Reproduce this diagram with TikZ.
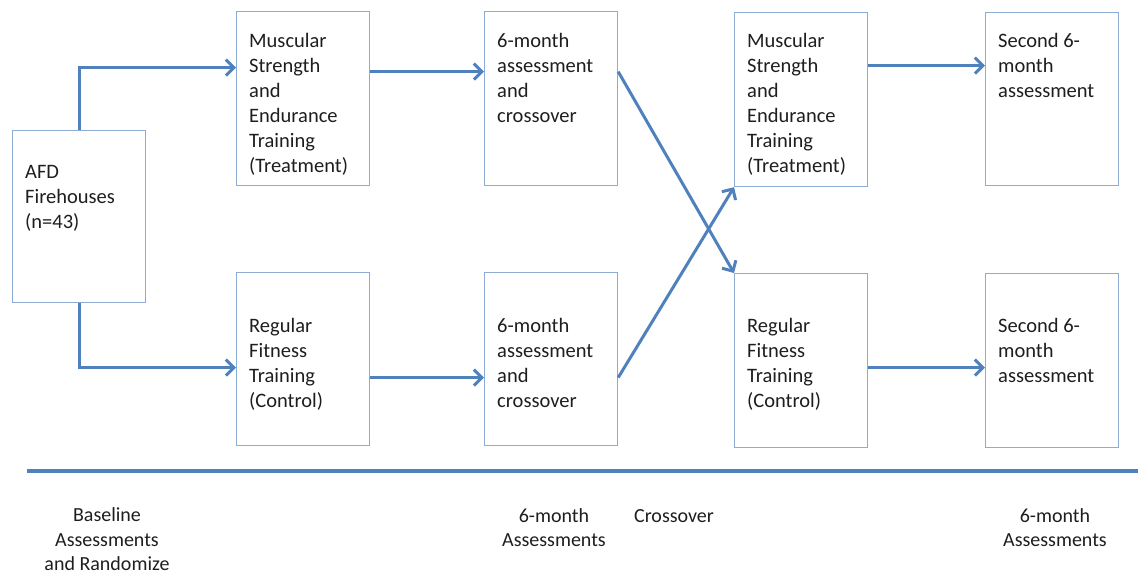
\documentclass[tikz,border=0pt]{standalone}
\usepackage{fontspec}
\setmainfont{Carlito}
\usetikzlibrary{arrows.meta}
\definecolor{arrowblue}{RGB}{79,129,189}
\definecolor{boxblue}{RGB}{140,172,212}
\definecolor{inktext}{RGB}{30,30,30}

\begin{document}
\begin{tikzpicture}[x=1pt,y=-1pt]
  \tikzstyle{stage} = [draw=boxblue, line width=1.2pt, anchor=north west, inner sep=0pt, minimum width=133pt, minimum height=174pt];
  \tikzstyle{stagetext} = [anchor=north west, inner sep=0pt, align=left, text=inktext, font=\fontsize{20.5}{25}\selectfont];
  \tikzstyle{period} = [anchor=north, inner sep=0pt, align=center, text=inktext, font=\fontsize{20}{24.5}\selectfont];
  \tikzstyle{link} = [draw=arrowblue, line width=3pt, -{Straight Barb[length=8pt,width=16pt]}];
  \tikzstyle{timeline} = [draw=arrowblue, line width=3.5pt];

  \useasboundingbox (0,0) rectangle (1138,573);

  % boxes
  \node[stage, minimum height=172pt] (afd) at (12,130) {};
  \node[stage] (mset1) at (236,11) {};
  \node[stage, minimum height=173pt] (rft1) at (236,272) {};
  \node[stage] (assess1t) at (484,11) {};
  \node[stage, minimum height=173pt] (assess1b) at (484,272) {};
  \node[stage] (mset2) at (734,12) {};
  \node[stage] (rft2) at (734,273) {};
  \node[stage, minimum height=173pt] (second1) at (985,12) {};
  \node[stage] (second2) at (985,273) {};

  % box texts
  \node[stagetext] (afdtext) at (25,160.5) {\strut AFD\\Firehouses\\(n=43)};
  \node[stagetext] (mset1text) at (249,29.5) {\strut Muscular\\Strength\\and\\Endurance\\Training\\(Treatment)};
  \node[stagetext] (rft1text) at (249,314.5) {\strut Regular\\Fitness\\Training\\(Control)};
  \node[stagetext] (assess1ttext) at (497,29.5) {\strut 6-month\\assessment\\and\\crossover};
  \node[stagetext] (assess1btext) at (497,314.5) {\strut 6-month\\assessment\\and\\crossover};
  \node[stagetext] (mset2text) at (747,29.5) {\strut Muscular\\Strength\\and\\Endurance\\Training\\(Treatment)};
  \node[stagetext] (rft2text) at (747,314.5) {\strut Regular\\Fitness\\Training\\(Control)};
  \node[stagetext] (second1text) at (998,29.5) {\strut Second 6-\\month\\assessment};
  \node[stagetext] (second2text) at (998,314.5) {\strut Second 6-\\month\\assessment};

  % randomize
  \draw[link] (afd.north) |- ([yshift=31pt]mset1.west);
  \draw[link] (afd.south) |- ([yshift=-8.5pt]rft1.west);

  \draw[link] ([yshift=27pt]mset1.east) -- ([yshift=27pt]mset1.east -| assess1t.west);
  \draw[link] ([yshift=-18.5pt]rft1.east) -- ([yshift=-18.5pt]rft1.east -| assess1b.west);

  % crossover
  \draw[link] ([yshift=27pt]assess1t.east) -- (rft2.north west);
  \draw[link] ([yshift=-18.5pt]assess1b.east) -- (mset2.south west);

  \draw[link] ([yshift=34pt]mset2.east) -- ([yshift=34pt]mset2.east -| second1.west);
  \draw[link] ([yshift=-7pt]rft2.east) -- ([yshift=-7pt]rft2.east -| second2.west);

  % time axis
  \coordinate (tstart) at (27,471);
  \coordinate (tend) at (1138,471);
  \draw[timeline] (tstart) -- (tend);

  \node[period] (baseline) at (107,504.5) {\strut Baseline\\Assessments\\and Randomize};
  \node[period] (sixmonth1) at (554,505) {\strut 6-month\\Assessments};
  \node[period] (crossover) at (674,505) {\strut Crossover};
  \node[period] (sixmonth2) at (1055,505) {\strut 6-month\\Assessments};
\end{tikzpicture}
\end{document}
